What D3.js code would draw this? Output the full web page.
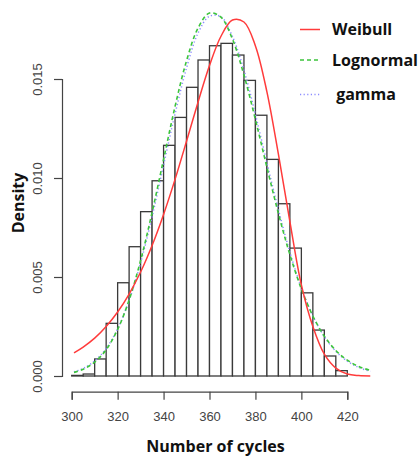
<!DOCTYPE html>
<html><head><meta charset="utf-8">
<script src="https://cdn.jsdelivr.net/npm/d3@7"></script>
<style>html,body{margin:0;padding:0;background:#fff;}svg{display:block;}</style>
</head><body>
<script>
const binStarts = [300,305,310,315,320,325,330,335,340,345,350,355,360,365,370,375,380,385,390,395,400,405,410,415];
const binWidth = 5;
const density = [0.00003,0.0001,0.00086,0.00266,0.00471,0.00653,0.0083,0.00986,0.01165,0.01306,0.01458,0.01596,0.01668,0.0168,0.01621,0.01493,0.01317,0.01094,0.0087,0.00646,0.0042,0.00232,0.00101,0.00027];
const curveX =    [301,305,310,315,320,325,330,335,340,345,350,355,360,365,370,375,380,385,390,395,400,405,410,415,420,425,430];
const weibull =   [0.00117,0.00146,0.00191,0.0025,0.00323,0.00414,0.00525,0.00659,0.00816,0.00993,0.01186,0.01383,0.01568,0.01716,0.01798,0.01788,0.01667,0.01435,0.0112,0.0078,0.0046,0.0025,0.0011,0.0004,0.0001,0.00002,0.0];
const lognormal = [0.00018,0.00034,0.0007,0.00133,0.00235,0.00384,0.00583,0.00826,0.01094,0.01361,0.01592,0.01757,0.01833,0.01812,0.01701,0.0152,0.01295,0.01054,0.00821,0.00613,0.0044,0.00303,0.00201,0.00129,0.0008,0.00048,0.00028];
const gamma =     [0.00021,0.00038,0.00076,0.00139,0.00238,0.00382,0.00571,0.00804,0.01065,0.01324,0.01556,0.01732,0.01817,0.01814,0.01714,0.01545,0.01321,0.01077,0.00841,0.00626,0.00445,0.00304,0.00199,0.00125,0.00075,0.00043,0.00024];
const xTicks = [300,320,340,360,380,400,420];
const yTicks = [0.000,0.005,0.010,0.015];
const legendLabels = ["Weibull","Lognormal"," gamma"];

const W = 418, H = 457;
const svg = d3.select("body").append("svg").attr("width", W).attr("height", H);
svg.append("rect").attr("width", W).attr("height", H).attr("fill", "#fff");

const x = d3.scaleLinear().domain([300, 420]).range([71.7, 347.3]);
const y = d3.scaleLinear().domain([0, 0.015]).range([376, 79]);

// histogram
svg.append("g").selectAll("rect").data(binStarts).join("rect")
  .attr("x", d => x(d))
  .attr("width", d => x(d + binWidth) - x(d))
  .attr("y", (d, i) => y(density[i]))
  .attr("height", (d, i) => y(0) - y(density[i]))
  .attr("fill", "#fff").attr("stroke", "#3a3a3a").attr("stroke-width", 1.3);

const line = arr => d3.line().x((d, i) => x(curveX[i])).y(d => y(Math.max(0, d))).curve(d3.curveCatmullRom.alpha(0.5))(arr);

svg.append("path").attr("d", line(gamma)).attr("fill", "none")
  .attr("stroke", "#8c8cff").attr("stroke-width", 1.5).attr("stroke-dasharray", "1.2,2.4");
svg.append("path").attr("d", line(lognormal)).attr("fill", "none")
  .attr("stroke", "#3cc43c").attr("stroke-width", 1.6).attr("stroke-dasharray", "4,3");
svg.append("path").attr("d", line(weibull)).attr("fill", "none")
  .attr("stroke", "#ff3b3b").attr("stroke-width", 1.5);

// x axis
const xAxis = d3.axisBottom(x).tickValues(xTicks).tickSize(8).tickFormat(d3.format("d"));
const gx = svg.append("g").attr("transform", "translate(0,391.7)").call(xAxis);
gx.select(".domain").attr("stroke", "#444").attr("stroke-width", 1.2);
gx.selectAll(".tick line").attr("stroke", "#444").attr("stroke-width", 1.2);
gx.selectAll(".tick text").attr("font-family", "Liberation Sans, Arial, sans-serif").attr("font-size", 13).attr("fill", "#444")
  .attr("y", 25).attr("dy", "0.35em");

// y axis
const yAxis = d3.axisLeft(y).tickValues(yTicks).tickSize(8).tickFormat(d3.format(".3f"));
const gy = svg.append("g").attr("transform", "translate(62,0)").call(yAxis);
gy.select(".domain").attr("stroke", "#444").attr("stroke-width", 1.2);
gy.selectAll(".tick line").attr("stroke", "#444").attr("stroke-width", 1.2);
gy.selectAll(".tick text").attr("font-family", "Liberation Sans, Arial, sans-serif").attr("font-size", 13).attr("fill", "#444")
  .attr("transform", "rotate(-90)").attr("x", 0).attr("y", -25).attr("dy", "0.35em").attr("text-anchor", "middle");

// axis titles
svg.append("text").attr("x", 215.5).attr("y", 446.7).attr("dy", "0.35em").attr("text-anchor", "middle")
  .attr("font-family", "Open Sans, sans-serif").attr("font-weight", "bold").attr("font-size", 16).attr("fill", "#111")
  .text("Number of cycles");
svg.append("text").attr("transform", "translate(18,203) rotate(-90)").attr("dy", "0.35em").attr("text-anchor", "middle")
  .attr("font-family", "Open Sans, sans-serif").attr("font-weight", "bold").attr("font-size", 16).attr("fill", "#111")
  .text("Density");

// legend
const legStyles = [
  {stroke: "#ff3b3b", dash: null, y: 29.5},
  {stroke: "#3cc43c", dash: "4,3", y: 60},
  {stroke: "#8c8cff", dash: "1.2,2.4", y: 94.5}
];
const lg = svg.append("g");
legStyles.forEach((s, i) => {
  lg.append("line").attr("x1", 300).attr("x2", 320).attr("y1", s.y).attr("y2", s.y)
    .attr("stroke", s.stroke).attr("stroke-width", 1.5).attr("stroke-dasharray", s.dash);
  lg.append("text").attr("x", 332).attr("y", s.y).attr("dy", "0.35em")
    .attr("font-family", "Open Sans, sans-serif").attr("font-weight", "bold").attr("font-size", 16).attr("fill", "#111")
    .attr("xml:space", "preserve").style("white-space", "pre")
    .text(legendLabels[i]);
});
</script>
</body></html>
